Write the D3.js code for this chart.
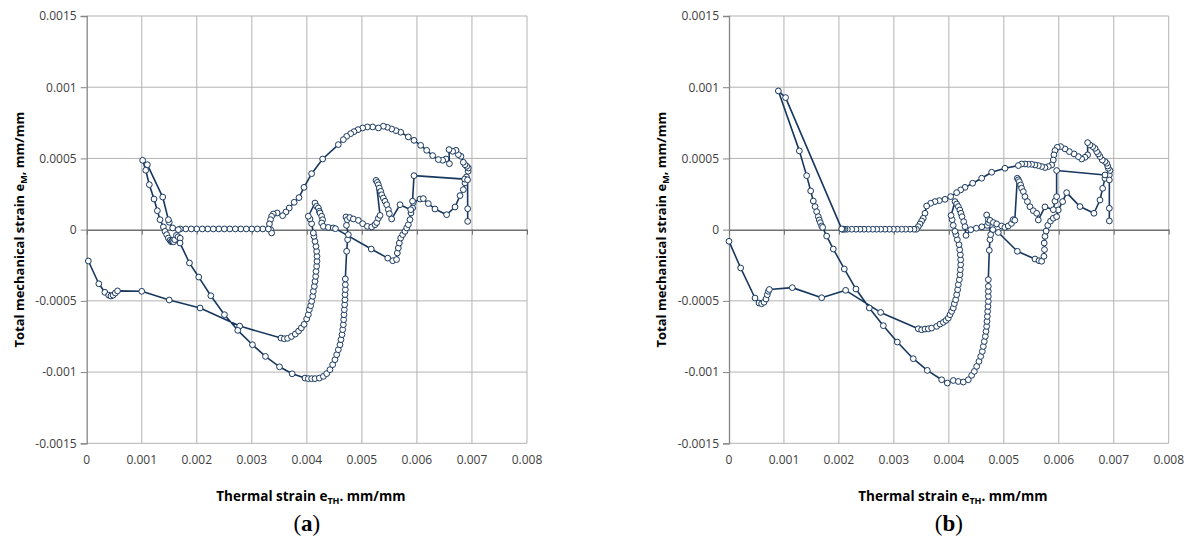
<!DOCTYPE html>
<html><head><meta charset="utf-8">
<script src="https://cdn.jsdelivr.net/npm/d3@7"></script>
<style>body{margin:0;background:#fff}svg{display:block}</style>
</head><body>
<svg id="c" width="1189" height="546"></svg>
<script>
// ---- tick values and labels ----
const xTicks = [0, 0.001, 0.002, 0.003, 0.004, 0.005, 0.006, 0.007, 0.008];
const xTickLabels = ["0", "0.001", "0.002", "0.003", "0.004", "0.005", "0.006", "0.007", "0.008"];
const yTicks = [-0.0015, -0.001, -0.0005, 0, 0.0005, 0.001, 0.0015];
const yTickLabels = ["-0.0015", "-0.001", "-0.0005", "0", "0.0005", "0.001", "0.0015"];
const panelLetters = ["a", "b"];
const UNIT = 1e-3; // series below are written in 1e-3 mm/mm

// ---- panel (a): [thermal strain, total mechanical strain] in path order ----
const seriesA = [
[0.03,-0.22],[0.22,-0.38],[0.33,-0.44],[0.40,-0.46],[0.44,-0.466],[0.48,-0.46],[0.52,-0.445],[0.56,-0.43],
[1.00,-0.433],[1.50,-0.494],[2.06,-0.55],[2.78,-0.677],
[3.53,-0.761],[3.59,-0.766],[3.65,-0.763],[3.72,-0.75],[3.79,-0.733],[3.85,-0.712],[3.90,-0.69],[3.95,-0.665],[3.996,-0.627],[4.027,-0.597],[4.045,-0.562],[4.069,-0.534],[4.087,-0.503],[4.106,-0.468],[4.118,-0.433],[4.136,-0.398],[4.148,-0.363],[4.16,-0.328],[4.166,-0.293],[4.178,-0.257],[4.184,-0.222],[4.184,-0.187],[4.178,-0.152],[4.166,-0.117],[4.148,-0.082],[4.13,-0.047],[4.118,-0.023],
[4.087,0.042],[4.057,0.075],[4.027,0.094],[4.148,0.187],[4.178,0.164],[4.209,0.152],[4.227,0.129],[4.239,0.117],[4.269,0.094],[4.287,0.07],[4.269,0.047],[4.30,0.023],[4.39,0.016],[4.48,0.012],[4.52,0.007],
[5.17,-0.136],[5.47,-0.20],[5.56,-0.218],[5.63,-0.21],[5.644,-0.164],[5.662,-0.129],[5.68,-0.094],[5.705,-0.059],[5.741,-0.035],[5.783,-0.012],[5.814,0.012],[5.844,0.035],[5.874,0.07],[5.892,0.117],[5.922,0.152],[5.935,0.19],
[6.056,0.215],[6.116,0.218],[6.207,0.183],[6.328,0.145],[6.54,0.105],[6.692,0.159],[6.783,0.239],[6.843,0.281],[6.873,0.328],[6.90,0.37],[6.93,0.41],[6.934,0.433],[6.904,0.445],[6.873,0.456],[6.843,0.473],[6.80,0.515],[6.752,0.527],[6.71,0.557],[6.649,0.55],[6.583,0.562],[6.59,0.463],[6.528,0.496],[6.468,0.487],
[6.389,0.492],[6.286,0.52],[6.177,0.557],[6.068,0.592],[5.947,0.627],[5.844,0.651],[5.705,0.684],[5.62,0.695],[5.541,0.707],[5.462,0.719],[5.39,0.726],[5.30,0.714],[5.196,0.721],[5.099,0.721],[5.014,0.714],[4.93,0.702],[4.857,0.688],[4.796,0.674],[4.723,0.655],[4.663,0.632],[4.572,0.597],[4.287,0.496],[4.087,0.393],[3.948,0.297],[3.857,0.225],[3.77,0.192],[3.68,0.152],[3.62,0.124],[3.56,0.098],[3.46,0.117],[3.39,0.11],[3.36,0.094],[3.34,0.07],[3.32,0.04],[3.343,0.0],[3.36,-0.023],[3.30,0.005],
[3.2,0.005],[3.1,0.005],[3.0,0.005],[2.9,0.005],[2.8,0.005],[2.7,0.005],[2.6,0.005],[2.5,0.005],[2.4,0.005],[2.3,0.005],[2.2,0.005],[2.1,0.005],[2.0,0.005],[1.9,0.005],[1.8,0.005],[1.7,0.005],
[1.665,0.0],[1.562,0.012],[1.50,0.052],[1.484,0.07],[1.381,0.229],[1.102,0.456],[1.017,0.487],[1.072,0.417],[1.138,0.316],[1.223,0.215],[1.284,0.133],[1.332,0.07],[1.393,0.019],[1.423,-0.012],[1.453,-0.035],[1.484,-0.059],[1.514,-0.075],[1.535,-0.085],[1.55,-0.08],[1.565,-0.075],[1.58,-0.085],[1.60,-0.07],[1.63,-0.04],[1.66,-0.05],[1.70,-0.06],[1.696,-0.094],
[1.867,-0.234],[2.036,-0.333],[2.255,-0.464],[2.503,-0.597],[2.745,-0.707],[3.012,-0.808],[3.248,-0.89],[3.503,-0.963],[3.733,-1.012],
[3.966,-1.042],[4.027,-1.046],[4.087,-1.046],[4.148,-1.046],[4.227,-1.042],[4.30,-1.03],[4.36,-1.011],[4.42,-0.983],[4.469,-0.948],[4.511,-0.913],[4.542,-0.878],[4.572,-0.843],[4.602,-0.808],[4.62,-0.772],[4.639,-0.737],[4.651,-0.702],[4.663,-0.667],[4.669,-0.632],[4.675,-0.597],[4.681,-0.562],[4.687,-0.527],[4.693,-0.492],[4.693,-0.456],[4.699,-0.421],[4.699,-0.386],[4.699,-0.346],[4.723,-0.152],[4.741,-0.07],[4.754,-0.035],[4.72,0.03],[4.711,0.089],[4.735,0.07],[4.78,0.085],[4.845,0.075],[4.936,0.065],[5.014,0.042],[5.099,0.023],[5.178,0.019],[5.238,0.035],[5.27,0.05],[5.30,0.08],[5.33,0.10],
[5.257,0.346],[5.281,0.332],[5.299,0.315],[5.317,0.292],[5.342,0.269],[5.36,0.245],[5.39,0.222],[5.42,0.199],[5.45,0.175],[5.481,0.14],[5.499,0.112],[5.541,0.075],
[5.693,0.175],[5.887,0.14],[5.92,0.20],[5.947,0.379],[6.867,0.355],[6.92,0.35],[6.922,0.147],[6.922,0.058]
];

// ---- panel (b) ----
const seriesB = [
[0.0,-0.082],[0.212,-0.269],[0.473,-0.48],[0.546,-0.515],[0.594,-0.52],[0.637,-0.51],[0.673,-0.487],[0.697,-0.457],[0.716,-0.433],[0.734,-0.42],[1.152,-0.407],[1.686,-0.478],[2.122,-0.426],[2.759,-0.581],
[3.444,-0.696],[3.505,-0.703],[3.566,-0.698],[3.627,-0.696],[3.687,-0.691],[3.778,-0.679],[3.839,-0.663],[3.90,-0.651],[3.948,-0.637],[3.99,-0.621],[4.021,-0.597],[4.051,-0.574],[4.081,-0.55],[4.10,-0.52],[4.124,-0.492],[4.142,-0.457],[4.16,-0.422],[4.172,-0.386],[4.191,-0.351],[4.203,-0.316],[4.209,-0.281],[4.215,-0.246],[4.215,-0.211],[4.209,-0.176],[4.197,-0.141],[4.185,-0.105],[4.154,-0.07],[4.13,-0.035],[4.112,-0.012],
[4.08,0.03],[4.06,0.07],[4.04,0.10],[4.112,0.197],[4.142,0.18],[4.172,0.162],[4.20,0.138],[4.22,0.115],[4.24,0.091],[4.27,0.056],[4.294,0.021],[4.312,-0.04],[4.40,0.0],[4.50,0.01],[4.60,0.02],[4.70,0.03],[4.80,0.0],[4.90,-0.02],
[5.246,-0.152],[5.567,-0.206],[5.64,-0.218],[5.688,-0.222],[5.73,-0.187],[5.74,-0.14],[5.735,-0.094],[5.749,-0.047],[5.77,-0.01],[5.80,0.03],[5.85,0.06],[5.90,0.08],[5.961,0.091],
[5.991,0.138],[6.07,0.197],[6.143,0.26],[6.386,0.162],[6.64,0.115],[6.75,0.208],[6.798,0.29],[6.84,0.36],[6.92,0.384],[6.932,0.415],[6.901,0.431],[6.889,0.447],[6.871,0.466],[6.841,0.478],[6.792,0.489],[6.75,0.513],[6.72,0.532],[6.69,0.548],[6.659,0.571],[6.616,0.583],[6.567,0.595],[6.525,0.611],[6.525,0.525],
[6.477,0.508],[6.416,0.496],[6.355,0.513],[6.277,0.532],[6.192,0.548],[6.113,0.567],[6.034,0.583],[5.973,0.578],[5.931,0.555],[5.913,0.525],[5.90,0.489],[5.87,0.454],[5.81,0.443],[5.749,0.436],[5.688,0.443],[5.628,0.45],[5.567,0.454],[5.506,0.459],[5.446,0.459],[5.385,0.461],[5.324,0.461],[5.264,0.45],[5.021,0.431],[4.779,0.403],[4.597,0.361],[4.433,0.326],[4.294,0.297],[4.215,0.279],[4.142,0.26],[4.033,0.232],[3.93,0.213],[3.827,0.204],[3.748,0.197],[3.669,0.185],[3.596,0.166],[3.566,0.115],[3.535,0.08],[3.505,0.061],[3.475,0.04],[3.444,0.021],[3.41,0.003],
[3.366,0.003],[3.293,0.003],[3.214,0.003],[3.141,0.003],[3.062,0.003],[2.99,0.003],[2.917,0.003],[2.838,0.003],[2.759,0.003],[2.687,0.003],[2.614,0.003],[2.535,0.003],[2.456,0.003],[2.383,0.003],[2.31,0.003],[2.232,0.003],[2.153,0.003],[2.11,0.003],[2.08,0.003],[2.06,0.003],[2.05,0.005],
[1.03,0.927],[0.898,0.974],[1.28,0.553],[1.413,0.379],[1.486,0.272],[1.534,0.201],[1.565,0.162],[1.595,0.126],[1.625,0.091],[1.643,0.068],[1.662,0.049],[1.686,0.026],[1.704,0.016],[1.777,-0.045],[1.898,-0.136],[2.098,-0.276],[2.31,-0.417],[2.553,-0.55],[2.808,-0.674],[3.062,-0.789],[3.353,-0.906],[3.608,-0.988],[3.869,-1.054],[3.972,-1.077],
[4.081,-1.059],[4.172,-1.066],[4.263,-1.07],[4.354,-1.054],[4.415,-1.023],[4.464,-0.995],[4.506,-0.96],[4.548,-0.925],[4.579,-0.89],[4.609,-0.855],[4.627,-0.82],[4.645,-0.785],[4.664,-0.749],[4.676,-0.714],[4.688,-0.679],[4.694,-0.644],[4.70,-0.609],[4.706,-0.574],[4.712,-0.539],[4.718,-0.504],[4.718,-0.468],[4.718,-0.433],[4.718,-0.398],[4.718,-0.351],[4.736,-0.145],[4.748,-0.07],[4.761,-0.035],
[4.72,0.05],[4.688,0.103],[4.72,0.07],[4.75,0.065],[4.81,0.05],[4.87,0.04],[4.96,0.026],[5.02,0.016],[5.08,0.026],[5.14,0.044],[5.17,0.07],[5.20,0.066],
[5.246,0.361],[5.264,0.35],[5.282,0.337],[5.306,0.314],[5.324,0.291],[5.355,0.267],[5.385,0.232],[5.43,0.197],[5.476,0.161],[5.537,0.133],[5.598,0.115],[5.628,0.068],
[5.749,0.16],[5.90,0.14],[5.93,0.20],[5.961,0.232],[5.961,0.415],[6.841,0.384],[6.92,0.349],[6.92,0.15],[6.92,0.061]
];

const panels = [
  {series: seriesA, left: 86.7, right: 527, letter: panelLetters[0]},
  {series: seriesB, left: 729, right: 1168.7, letter: panelLetters[1]}
];
const TOP = 16, BOTTOM = 443.3;
const LINE = "#17375E";
const GRID = "#b3b3b3";
const svg = d3.select("#c");
svg.append("rect").attr("width", 1189).attr("height", 546).attr("fill", "#fff");

panels.forEach(p => {
  const x = d3.scaleLinear().domain([0, 0.008]).range([p.left, p.right]);
  const y = d3.scaleLinear().domain([-0.0015, 0.0015]).range([BOTTOM, TOP]);
  const g = svg.append("g");

  // gridlines
  g.selectAll(".vg").data(xTicks.slice(1)).enter().append("line")
    .attr("x1", d => x(d)).attr("x2", d => x(d)).attr("y1", TOP).attr("y2", BOTTOM)
    .attr("stroke", GRID).attr("stroke-width", 1);
  g.selectAll(".hg").data(yTicks.filter(d => d !== 0)).enter().append("line")
    .attr("x1", p.left).attr("x2", p.right).attr("y1", d => y(d)).attr("y2", d => y(d))
    .attr("stroke", GRID).attr("stroke-width", 1);

  // y axis
  const yAxis = d3.axisLeft(y).tickValues(yTicks).tickFormat((d, i) => yTickLabels[i]).tickSize(6).tickPadding(4);
  const ya = g.append("g").attr("transform", `translate(${p.left},0)`).call(yAxis);
  ya.select(".domain").attr("stroke", "#868686").attr("stroke-width", 1.3);
  ya.selectAll(".tick line").attr("stroke", "#868686");
  ya.selectAll("text").attr("font-family", "Open Sans").attr("font-size", 12).attr("fill", "#404040");

  // x axis along zero
  const xAxis = d3.axisBottom(x).tickValues(xTicks).tickFormat("").tickSize(5).tickSizeOuter(0);
  const xa = g.append("g").attr("transform", `translate(0,${y(0)})`).call(xAxis);
  xa.select(".domain").attr("stroke", "#707070").attr("stroke-width", 1.5);
  xa.selectAll(".tick line").attr("stroke", "#707070");

  // x tick labels at bottom
  g.selectAll(".xl").data(xTicks).enter().append("text")
    .attr("x", d => x(d)).attr("y", 464).attr("text-anchor", "middle")
    .attr("font-family", "Open Sans").attr("font-size", 12).attr("fill", "#404040")
    .text((d, i) => xTickLabels[i]);

  // series line + markers
  const pts = p.series.map(d => [d[0] * UNIT, d[1] * UNIT]);
  const line = d3.line().x(d => x(d[0])).y(d => y(d[1]));
  g.append("path").attr("d", line(pts)).attr("fill", "none")
    .attr("stroke", LINE).attr("stroke-width", 1.6).attr("stroke-linejoin", "round");
  g.selectAll(".pt").data(pts).enter().append("circle")
    .attr("cx", d => x(d[0])).attr("cy", d => y(d[1])).attr("r", 2.9)
    .attr("fill", "#fff").attr("stroke", LINE).attr("stroke-width", 1);

  // axis titles
  const cx = (p.left + p.right) / 2;
  const xt = g.append("text").attr("x", cx + 4).attr("y", 501).attr("text-anchor", "middle")
    .attr("font-family", "Open Sans").attr("font-weight", "bold").attr("font-size", 13.5).attr("fill", "#000");
  xt.append("tspan").text("Thermal strain e");
  xt.append("tspan").attr("font-size", 9).attr("dy", 3).text("TH");
  xt.append("tspan").attr("dy", -3).text(". mm/mm");

  const yt = g.append("text").attr("transform", `translate(${p.left - 63},${(TOP + BOTTOM) / 2}) rotate(-90)`)
    .attr("text-anchor", "middle")
    .attr("font-family", "Open Sans").attr("font-weight", "bold").attr("font-size", 13).attr("fill", "#000");
  yt.append("tspan").text("Total mechanical strain e");
  yt.append("tspan").attr("font-size", 9).attr("dy", 3).text("M");
  yt.append("tspan").attr("dy", -3).text(", mm/mm");

  // panel letter
  const pl = g.append("text").attr("x", cx).attr("y", 531).attr("text-anchor", "middle")
    .attr("font-family", "Liberation Serif").attr("font-size", 23).attr("fill", "#000");
  pl.append("tspan").text("(");
  pl.append("tspan").attr("font-weight", "bold").text(p.letter);
  pl.append("tspan").text(")");
});
</script>
</body></html>
